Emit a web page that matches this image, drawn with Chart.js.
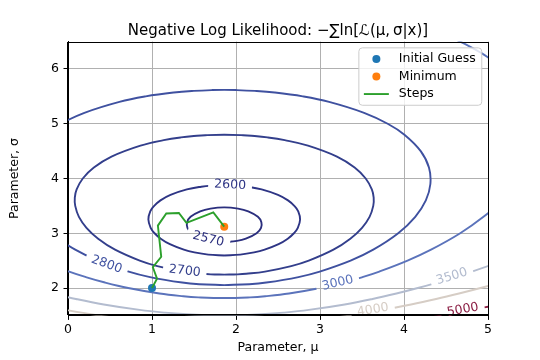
<!DOCTYPE html>
<html><head><meta charset="utf-8">
<script src="https://cdn.jsdelivr.net/npm/chart.js@4.4.1/dist/chart.umd.min.js"></script>
<style>html,body{margin:0;padding:0;background:#fff}#wrap{width:540px;height:360px}</style>
</head><body><div id="wrap"><canvas id="c" width="540" height="360"></canvas></div>
<script>
// ---- data ----
const xTicks = [0, 1, 2, 3, 4, 5];
const yTicks = [2, 3, 4, 5, 6];
const levels = [2570, 2600, 2700, 2800, 3000, 3500, 4000, 5000];

// contour lines, [mu, sigma] pairs
const c2570 = [[1.86,2.84],[2.012,2.86],[2.117,2.9],[2.245,3.0],[2.298,3.1],[2.302,3.2],[2.261,3.3],[2.146,3.4],[2.024,3.45],[1.86,3.472],[1.696,3.45],[1.574,3.4],[1.459,3.3],[1.418,3.2],[1.422,3.1],[1.475,3.0],[1.603,2.9],[1.708,2.86],[1.86,2.84]];
const c2600 = [[1.86,2.595],[2.05,2.61],[2.215,2.65],[2.341,2.7],[2.507,2.8],[2.616,2.9],[2.689,3.0],[2.736,3.1],[2.763,3.25],[2.741,3.4],[2.694,3.5],[2.619,3.6],[2.5,3.7],[2.305,3.8],[2.134,3.85],[2.008,3.87],[1.86,3.88],[1.712,3.87],[1.586,3.85],[1.415,3.8],[1.22,3.7],[1.101,3.6],[1.026,3.5],[0.979,3.4],[0.957,3.25],[0.984,3.1],[1.031,3.0],[1.104,2.9],[1.213,2.8],[1.379,2.7],[1.505,2.65],[1.67,2.61],[1.86,2.595]];
const c2700 = [[1.86,2.244],[2.021,2.25],[2.121,2.26],[2.345,2.3],[2.657,2.4],[2.866,2.5],[3.16,2.7],[3.361,2.9],[3.5,3.1],[3.59,3.3],[3.634,3.5],[3.639,3.65],[3.617,3.8],[3.544,4.0],[3.412,4.2],[3.202,4.4],[2.857,4.6],[2.58,4.7],[2.376,4.75],[2.185,4.78],[2.085,4.79],[1.86,4.798],[1.635,4.79],[1.535,4.78],[1.344,4.75],[1.14,4.7],[0.863,4.6],[0.518,4.4],[0.308,4.2],[0.176,4.0],[0.103,3.8],[0.081,3.65],[0.086,3.5],[0.13,3.3],[0.22,3.1],[0.359,2.9],[0.56,2.7],[0.854,2.5],[1.063,2.4],[1.375,2.3],[1.599,2.26],[1.699,2.25],[1.86,2.244]];
const c2800 = [[1.86,2.0535],[2.158,2.07],[2.361,2.1],[2.743,2.2],[2.997,2.3],[3.364,2.5],[3.634,2.7],[3.931,3.0],[4.134,3.3],[4.26,3.6],[4.314,3.9],[4.297,4.2],[4.199,4.5],[4.005,4.8],[3.806,5.0],[3.525,5.2],[3.108,5.4],[2.795,5.5],[2.461,5.57],[2.223,5.6],[2.005,5.615],[1.86,5.618],[1.715,5.615],[1.497,5.6],[1.259,5.57],[0.925,5.5],[0.612,5.4],[0.195,5.2],[-0.086,5.0],[-0.285,4.8],[-0.479,4.5],[-0.577,4.2],[-0.594,3.9],[-0.54,3.6],[-0.414,3.3],[-0.211,3.0],[0.086,2.7],[0.356,2.5],[0.723,2.3],[0.977,2.2],[1.359,2.1],[1.562,2.07],[1.86,2.0535]];
const c3000 = [[-0.322,2.5],[0.014,2.3],[0.212,2.2],[0.44,2.1],[0.717,2.0],[1.089,1.9],[1.373,1.85],[1.553,1.83],[1.86,1.8167],[2.167,1.83],[2.347,1.85],[2.631,1.9],[3.003,2.0],[3.28,2.1],[3.508,2.2],[3.706,2.3],[4.042,2.5],[4.322,2.7],[4.669,3.0],[4.946,3.3],[5.168,3.6],[5.387,4.0],[5.544,4.5],[5.573,5.0],[5.462,5.5],[5.181,6.0],[5.011,6.2],[4.91,6.3],[4.796,6.4],[4.669,6.5],[4.525,6.6]];
const c3500 = [[-0.444,2.0],[-0.19,1.9],[0.094,1.8],[0.426,1.7],[0.854,1.6],[1.154,1.55],[1.418,1.52],[1.65,1.505],[1.86,1.5006],[2.07,1.505],[2.302,1.52],[2.566,1.55],[2.866,1.6],[3.294,1.7],[3.626,1.8],[3.91,1.9],[4.164,2.0],[4.395,2.1],[4.609,2.2],[4.809,2.3],[4.999,2.4],[5.179,2.5]];
const c4000 = [[-0.364,1.7],[-0.03,1.6],[0.362,1.5],[0.879,1.4],[1.86,1.3222],[2.841,1.4],[3.358,1.5],[3.75,1.6],[4.084,1.7],[4.382,1.8],[4.655,1.9],[4.911,2.0],[5.152,2.1]];
const c5000 = [[3.624,1.3],[4.07,1.4],[4.42,1.49],[4.636,1.55],[4.808,1.6],[4.974,1.65],[5.135,1.7]];
const contourData = [c2570, c2600, c2700, c2800, c3000, c3500, c4000, c5000];

// inline contour label anchors (mu, sigma), one per level
const labelMu    = [1.67, 1.93, 1.39, 0.46, 3.21, 4.57, 3.63, 4.70];
const labelSigma = [2.89, 3.88, 2.31, 2.43, 2.09, 2.21, 1.60, 1.60];

const initialGuessMu = [1.0], initialGuessSigma = [2.0];
const minimumMu = [1.86], minimumSigma = [3.12];
const stepsMu    = [1.00, 1.06, 1.01, 1.11, 1.07, 1.17, 1.32, 1.41, 1.73, 1.86];
const stepsSigma = [2.00, 2.17, 2.38, 2.57, 3.14, 3.36, 3.37, 3.19, 3.38, 3.12];

// ---- styles ----
const contourColors = ['#2b2f7e', '#2e3585', '#333f8c', '#3f51a0', '#5b73bb', '#b3bccf', '#d6cdc5', '#8a1c42'];
const FONT = '"DejaVu Sans", "Liberation Sans", sans-serif';

const toPts = (xs, ys) => xs.map((v, i) => ({x: v, y: ys[i]}));
const datasets = [
  {label: 'Steps', data: toPts(stepsMu, stepsSigma), showLine: true, borderColor: '#2ca02c', borderWidth: 1.9, pointRadius: 0, tension: 0, order: 0, legendKind: 'line'},
  {label: 'Minimum', data: toPts(minimumMu, minimumSigma), showLine: false, pointRadius: 4, pointBackgroundColor: '#ff7f0e', backgroundColor: '#ff7f0e', borderColor: '#ff7f0e', pointBorderWidth: 0, order: 1, legendKind: 'point'},
  {label: 'Initial Guess', data: toPts(initialGuessMu, initialGuessSigma), showLine: false, pointRadius: 4, pointBackgroundColor: '#1f77b4', backgroundColor: '#1f77b4', borderColor: '#1f77b4', pointBorderWidth: 0, order: 2, legendKind: 'point'}
];
levels.forEach((lv, i) => datasets.push({
  label: 'NLL ' + lv, data: contourData[i].map(p => ({x: p[0], y: p[1]})),
  showLine: true, borderColor: contourColors[i], borderWidth: 1.9, pointRadius: 0,
  tension: 0.4, order: 10 + i, levelIndex: i
}));

function labelGeom(chart, li) {
  const xs = chart.scales.x, ys = chart.scales.y;
  const pts = contourData[li].map(p => [xs.getPixelForValue(p[0]), ys.getPixelForValue(p[1])]);
  const px = xs.getPixelForValue(labelMu[li]), py = ys.getPixelForValue(labelSigma[li]);
  let best = Infinity, ang = 0;
  for (let k = 0; k < pts.length - 1; k++) {
    const [x1, y1] = pts[k], [x2, y2] = pts[k + 1];
    const dx = x2 - x1, dy = y2 - y1, L2 = dx * dx + dy * dy;
    if (!L2) continue;
    let t = ((px - x1) * dx + (py - y1) * dy) / L2; t = Math.max(0, Math.min(1, t));
    const qx = x1 + t * dx - px, qy = y1 + t * dy - py, d = qx * qx + qy * qy;
    if (d < best) { best = d; ang = Math.atan2(dy, dx); }
  }
  if (ang > Math.PI / 2) ang -= Math.PI;
  if (ang < -Math.PI / 2) ang += Math.PI;
  const ctx = chart.ctx;
  ctx.save(); ctx.font = '12.5px ' + FONT;
  const w = ctx.measureText(String(levels[li])).width;
  ctx.restore();
  return {px, py, ang, w};
}

const clabelPlugin = {
  id: 'clabels',
  beforeDatasetDraw(chart, args) {
    const ds = chart.data.datasets[args.index];
    if (ds.levelIndex === undefined) return;
    const g = labelGeom(chart, ds.levelIndex);
    const ctx = chart.ctx;
    const hw = g.w / 2 + 6, hh = 7;
    const c = Math.cos(g.ang), s = Math.sin(g.ang);
    const corner = (u, v) => [g.px + u * c - v * s, g.py + u * s + v * c];
    ctx.save();
    ctx.beginPath();
    ctx.rect(0, 0, chart.width, chart.height);
    const q = [corner(-hw, -hh), corner(hw, -hh), corner(hw, hh), corner(-hw, hh)];
    ctx.moveTo(q[0][0], q[0][1]);
    for (let k = 1; k < 4; k++) ctx.lineTo(q[k][0], q[k][1]);
    ctx.closePath();
    ctx.clip('evenodd');
    ds._clipped = true;
  },
  afterDatasetDraw(chart, args) {
    const ds = chart.data.datasets[args.index];
    if (ds._clipped) { chart.ctx.restore(); ds._clipped = false; }
  },
  afterDatasetsDraw(chart) {
    const ctx = chart.ctx;
    levels.forEach((lv, i) => {
      const g = labelGeom(chart, i);
      ctx.save();
      ctx.translate(g.px, g.py); ctx.rotate(g.ang);
      ctx.font = '12.5px ' + FONT;
      ctx.fillStyle = contourColors[i];
      ctx.textAlign = 'center'; ctx.textBaseline = 'middle';
      ctx.fillText(String(lv), 0, 0);
      ctx.restore();
    });
    // spines
    const a = chart.chartArea;
    ctx.save();
    ctx.strokeStyle = '#000'; ctx.lineWidth = 1;
    ctx.strokeRect(Math.round(a.left) - 0.5, Math.round(a.top) + 0.5, Math.round(a.right) - Math.round(a.left) + 1, Math.round(a.bottom) - Math.round(a.top) - 1);
    ctx.restore();
  }
};

const legendPlugin = {
  id: 'mplLegend',
  afterDraw(chart) {
    const ctx = chart.ctx, a = chart.chartArea;
    const items = ['Initial Guess', 'Minimum', 'Steps'].map(l => chart.data.datasets.find(d => d.label === l));
    ctx.save();
    ctx.font = '12.5px ' + FONT;
    const tw = Math.max(...items.map(d => ctx.measureText(d.label).width));
    const pad = 5, handle = 25, htp = 10, rowH = 17.5;
    const w = pad + handle + htp + tw + pad + 1;
    const right = a.right - 6.25, top = a.top + 6.25;
    const left = right - w;
    const h = 11.2 + rowH * (items.length - 1) + 11.2;
    const r = 3.5;
    ctx.beginPath();
    ctx.moveTo(left + r, top); ctx.lineTo(right - r, top); ctx.arcTo(right, top, right, top + r, r);
    ctx.lineTo(right, top + h - r); ctx.arcTo(right, top + h, right - r, top + h, r);
    ctx.lineTo(left + r, top + h); ctx.arcTo(left, top + h, left, top + h - r, r);
    ctx.lineTo(left, top + r); ctx.arcTo(left, top, left + r, top, r);
    ctx.closePath();
    ctx.fillStyle = 'rgba(255,255,255,0.8)'; ctx.fill();
    ctx.strokeStyle = '#cccccc'; ctx.lineWidth = 1; ctx.stroke();
    items.forEach((d, i) => {
      const cy = top + 11.2 + i * rowH;
      if (d.legendKind === 'point') {
        ctx.beginPath(); ctx.arc(left + pad + handle / 2, cy, 4, 0, Math.PI * 2);
        ctx.fillStyle = d.pointBackgroundColor; ctx.fill();
      } else {
        ctx.beginPath(); ctx.moveTo(left + pad, cy); ctx.lineTo(left + pad + handle, cy);
        ctx.strokeStyle = d.borderColor; ctx.lineWidth = d.borderWidth; ctx.stroke();
      }
      ctx.fillStyle = '#000'; ctx.textAlign = 'left'; ctx.textBaseline = 'middle';
      ctx.fillText(d.label, left + pad + handle + htp, cy);
    });
    ctx.restore();
  }
};

Chart.defaults.font.family = FONT;
Chart.defaults.font.size = 12.5;
Chart.defaults.color = '#000';

new Chart(document.getElementById('c'), {
  type: 'scatter',
  data: {datasets},
  options: {
    responsive: false, animation: false, devicePixelRatio: 1,
    layout: {padding: {left: 0, right: 52, top: 0, bottom: 0}},
    elements: {line: {capBezierPoints: false}},
    plugins: {
      legend: {display: false}, tooltip: {enabled: false},
      title: {display: true, fullSize: false,
        text: 'Negative Log Likelihood: \u2212\u2211ln[\u2112(\u03bc,\u2009\u03c3|x)]',
        color: '#000', font: {size: 15, weight: 'normal', family: FONT}, padding: {top: 22, bottom: 1.6}}
    },
    scales: {
      x: {type: 'linear', min: 0, max: 5,
        afterBuildTicks: s => { s.ticks = xTicks.map(v => ({value: v})); },
        afterFit: s => { s.height = 44.6; },
        grid: {color: '#b0b0b0', lineWidth: 1, tickColor: '#000', tickLength: 4.5, tickWidth: 1},
        border: {display: true, color: '#000', width: 1},
        ticks: {color: '#000', padding: 2, font: {size: 12.5}},
        title: {display: true, text: 'Parameter, \u03bc', color: '#000', font: {size: 12.5}, padding: {top: 0, bottom: 4.5}}
      },
      y: {type: 'linear', min: 1.5, max: 6.5,
        afterBuildTicks: s => { s.ticks = yTicks.map(v => ({value: v})); },
        afterFit: s => { s.width = 68; },
        grid: {color: '#b0b0b0', lineWidth: 1, tickColor: '#000', tickLength: 4.5, tickWidth: 1},
        border: {display: true, color: '#000', width: 1},
        ticks: {color: '#000', padding: 4.5, font: {size: 12.5}},
        title: {display: true, text: 'Parameter, \u03c3', color: '#000', font: {size: 12.5}, padding: {top: 7, bottom: 0}}
      }
    }
  },
  plugins: [clabelPlugin, legendPlugin]
});
</script></body></html>
